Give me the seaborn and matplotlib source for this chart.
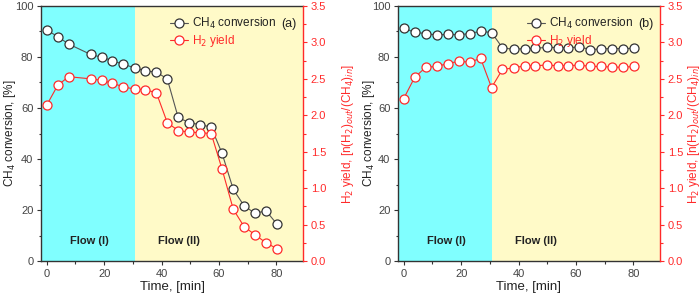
import numpy as np
import pandas as pd
import matplotlib
matplotlib.use("Agg")
import matplotlib.pyplot as plt
import seaborn as sns
from matplotlib.ticker import MultipleLocator

sns.set_theme(style="white")
plt.rcParams['font.family'] = ['Liberation Sans', 'DejaVu Sans']

# ---- data ----
time_a = [0, 3.8, 7.6, 15.3, 19.1, 22.9, 26.7, 30.6, 34.4, 38.2, 42.0,
          45.8, 49.7, 53.5, 57.3, 61.1, 65.0, 68.8, 72.6, 76.4, 80.2]
ch4_a = [90.6, 88.0, 85.1, 81.0, 79.9, 78.6, 77.1, 75.8, 74.5, 74.1, 71.4,
         56.3, 54.2, 53.5, 52.5, 42.2, 28.1, 21.6, 18.7, 19.7, 14.5]
h2_a = [2.14, 2.41, 2.53, 2.50, 2.48, 2.44, 2.39, 2.36, 2.35, 2.31, 1.90,
        1.79, 1.77, 1.76, 1.75, 1.26, 0.71, 0.47, 0.36, 0.25, 0.17]

time_b = [0, 3.8, 7.7, 11.5, 15.3, 19.1, 23.0, 26.8, 30.6, 34.4, 38.3,
          42.1, 45.9, 49.8, 53.6, 57.4, 61.2, 65.0, 68.9, 72.7, 76.5, 80.3]
ch4_b = [91.3, 89.7, 89.2, 88.6, 88.9, 88.7, 89.2, 90.1, 89.6, 83.6, 83.0,
         83.3, 83.4, 83.8, 83.7, 83.6, 84.0, 82.9, 83.2, 83.3, 83.3, 83.4]
h2_b = [2.23, 2.52, 2.66, 2.67, 2.71, 2.74, 2.73, 2.78, 2.38, 2.63, 2.65,
        2.68, 2.68, 2.69, 2.68, 2.68, 2.69, 2.67, 2.67, 2.66, 2.66, 2.67]

flow_split = 30.7
panel_labels = ["(a)", "(b)"]

CYAN = "#80ffff"
YELLOW = "#fffac8"
RED = "#ff2a2a"
DARK = "#333333"

fig = plt.figure(figsize=(7.0, 2.97), dpi=100)
W, H = 700, 297
boxes = [(41, 6, 303, 261), (398, 6, 660, 261)]
left_label_x = [-0.118, -0.112]
right_label_x = [1.17, 1.128]

datasets = [(time_a, ch4_a, h2_a), (time_b, ch4_b, h2_b)]

for i, ((l, t, r, b), (tm, ch4, h2), lab) in enumerate(zip(boxes, datasets, panel_labels)):
    ax = fig.add_axes([l / W, 1 - b / H, (r - l) / W, (b - t) / H])
    ax2 = ax.twinx()

    xmin, xmax = -2, 89.3
    ax.axvspan(xmin, flow_split, color=CYAN, zorder=0, lw=0)
    ax.axvspan(flow_split, xmax, color=YELLOW, zorder=0, lw=0)

    df = pd.DataFrame({"time": tm, "ch4": ch4, "h2": h2})
    sns.lineplot(data=df, x="time", y="ch4", ax=ax, color="#555555", lw=0.8,
                 marker="o", markersize=6.5, markerfacecolor="white",
                 markeredgecolor=DARK, markeredgewidth=0.9,
                 label="CH$_4$ conversion", legend=False, zorder=3)
    sns.lineplot(data=df, x="time", y="h2", ax=ax2, color=RED, lw=0.8,
                 marker="o", markersize=6.5, markerfacecolor="white",
                 markeredgecolor=RED, markeredgewidth=0.9,
                 label="H$_2$ yield", legend=False, zorder=3)

    ax.set_xlim(xmin, xmax)
    ax.set_ylim(0, 100)
    ax2.set_ylim(0, 3.5)

    ax.xaxis.set_major_locator(MultipleLocator(20))
    ax.xaxis.set_minor_locator(MultipleLocator(10))
    ax.yaxis.set_major_locator(MultipleLocator(20))
    ax.yaxis.set_minor_locator(MultipleLocator(10))
    ax2.yaxis.set_major_locator(MultipleLocator(0.5))
    ax2.yaxis.set_minor_locator(MultipleLocator(0.25))

    ax.tick_params(axis="both", which="major", direction="out", length=3,
                   width=0.8, colors=DARK, labelsize=8, labelcolor="#444444",
                   left=True, bottom=True, pad=2.5)
    ax.tick_params(axis="both", which="minor", direction="out", length=1.8,
                   width=0.8, colors=DARK, left=True, bottom=True)
    ax2.tick_params(axis="y", which="major", direction="out", length=3,
                    width=0.8, colors=RED, labelsize=8, right=True, pad=2.5)
    ax2.tick_params(axis="y", which="minor", direction="out", length=1.8,
                    width=0.8, colors=RED, right=True)

    for sp in ["left", "bottom", "top"]:
        ax.spines[sp].set_color(DARK)
        ax.spines[sp].set_linewidth(1.0)
    ax.spines["right"].set_visible(False)
    for sp in ["left", "bottom", "top"]:
        ax2.spines[sp].set_visible(False)
    ax2.spines["right"].set_color(RED)
    ax2.spines["right"].set_linewidth(1.0)

    ax.set_xlabel("Time, [min]", fontsize=9.5, color="#222222", labelpad=2)
    ax.set_ylabel("CH$_4$ conversion, [%]", fontsize=8.5, color="#222222",
                  va="center")
    ax2.set_ylabel("H$_2$ yield, [n(H$_2$)$_{out}$/(CH$_4$)$_{in}$]",
                   fontsize=8.5, color=RED, va="center")
    ax.yaxis.set_label_coords(left_label_x[i], 0.5)
    ax2.yaxis.set_label_coords(right_label_x[i], 0.5)

    ax.text(15, 8, "Flow (I)", fontsize=8, fontweight="bold",
            ha="center", va="center", color="#222222", zorder=4)
    ax.text(46.2, 8, "Flow (II)", fontsize=8, fontweight="bold",
            ha="center", va="center", color="#222222", zorder=4)

    h1, l1 = ax.get_legend_handles_labels()
    h2h, l2 = ax2.get_legend_handles_labels()
    leg = ax2.legend(h1 + h2h, l1 + l2, loc="upper right",
                     bbox_to_anchor=(0.905, 0.97), fontsize=8.5,
                     frameon=True, fancybox=False, framealpha=0,
                     edgecolor="#888888", borderpad=0.2, labelspacing=0.2,
                     handlelength=1.5, handletextpad=0.3, borderaxespad=0)
    leg.get_frame().set_linewidth(0.8)
    for txt, c in zip(leg.get_texts(), ["#222222", RED]):
        txt.set_color(c)
    ax2.text(0.975, 0.93, lab, transform=ax.transAxes, fontsize=9,
             ha="right", va="center", color="#222222")

fig.savefig("out.png", dpi=100)
